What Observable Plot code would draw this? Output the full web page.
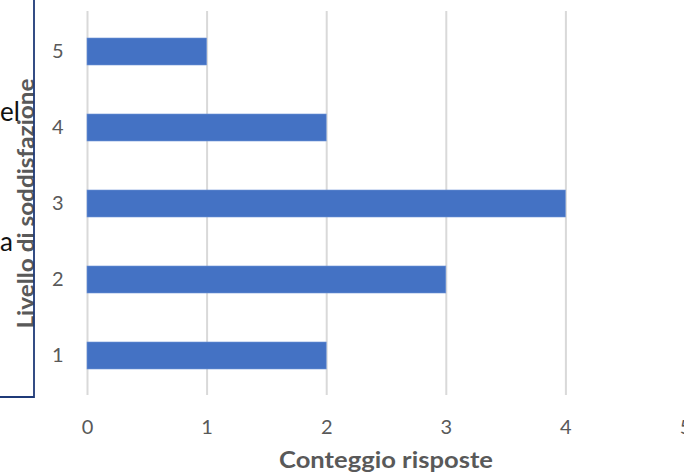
<!DOCTYPE html>
<html>
<head>
<meta charset="utf-8">
<script src="https://cdn.jsdelivr.net/npm/d3@7"></script>
<script src="https://cdn.jsdelivr.net/npm/@observablehq/plot@0.6"></script>
<style>
  html, body { margin: 0; padding: 0; background: #fff; overflow: hidden; }
  #wrap { position: relative; width: 684px; height: 473px; font-family: Lato, "Open Sans", sans-serif; }
  #wrap > svg.plot { position: absolute; left: 0; top: 0; }
  #deco { position: absolute; left: 0; top: 0; pointer-events: none; }
</style>
</head>
<body>
<div id="wrap"></div>
<script>
const levels = ["5", "4", "3", "2", "1"];
const counts = [1, 2, 4, 3, 2];
const xTicks = [0, 1, 2, 3, 4, 5];
const xTitle = "Conteggio risposte";
const yTitle = "Livello di soddisfazione";
const fragments = ["el", "a"];

const data = levels.map((l, i) => ({level: l, count: counts[i]}));

const chart = Plot.plot({
  width: 684,
  height: 473,
  marginLeft: 87,
  marginRight: 0,
  marginTop: 11,
  marginBottom: 78,
  style: {fontFamily: "Lato, 'Open Sans', sans-serif", background: "#fff", overflow: "visible"},
  x: {domain: [0, 5], range: [87, 685]},
  y: {domain: levels, range: [11, 395], paddingInner: 0.65, paddingOuter: 0.325},
  marks: [
    Plot.gridX(xTicks, {stroke: "#d9d9d9", strokeOpacity: 1, strokeWidth: 2}),
    Plot.barX(data, {x: "count", y: "level", fill: "#4472C4", stroke: "#6f93d6", strokeWidth: 0.6}),
    Plot.axisX(xTicks, {
      tickSize: 0, tickPadding: 24, fontSize: 20, color: "#595959", tickFormat: d => String(d),
      label: xTitle, labelAnchor: "center", labelArrow: "none", labelOffset: 72
    }),
    Plot.axisY({
      tickSize: 0, tickPadding: 24, fontSize: 20, color: "#595959",
      label: yTitle, labelAnchor: "center", labelArrow: "none", labelOffset: 70
    })
  ]
});
chart.classList.add("plot");
const sel = d3.select(chart);
sel.selectAll("g[aria-label='x-axis label'] text, g[aria-label='y-axis label'] text")
  .attr("font-weight", "bold").attr("font-size", 23).attr("fill", "#595959");
sel.selectAll("g[aria-label='x-axis label'] text")
  .attr("textLength", 214).attr("lengthAdjust", "spacingAndGlyphs");
sel.selectAll("g[aria-label='y-axis label'] text")
  .attr("textLength", 250).attr("lengthAdjust", "spacingAndGlyphs");
document.getElementById("wrap").appendChild(chart);

// decorative overlay: border of an adjacent slide shape and clipped text
const deco = d3.select("#wrap").append("svg").attr("id", "deco")
  .attr("width", 684).attr("height", 473);
deco.append("path").attr("d", "M34,0V397H0").attr("fill", "none")
  .attr("stroke", "#1f3a78").attr("stroke-width", 1.8);
deco.selectAll("text.frag").data(fragments).join("text").attr("class", "frag")
  .attr("x", 0).attr("y", (d, i) => i === 0 ? 121 : 251)
  .attr("font-family", "Lato, 'Open Sans', sans-serif").attr("font-size", 26)
  .attr("fill", "#111").text(d => d);
</script>
</body>
</html>
